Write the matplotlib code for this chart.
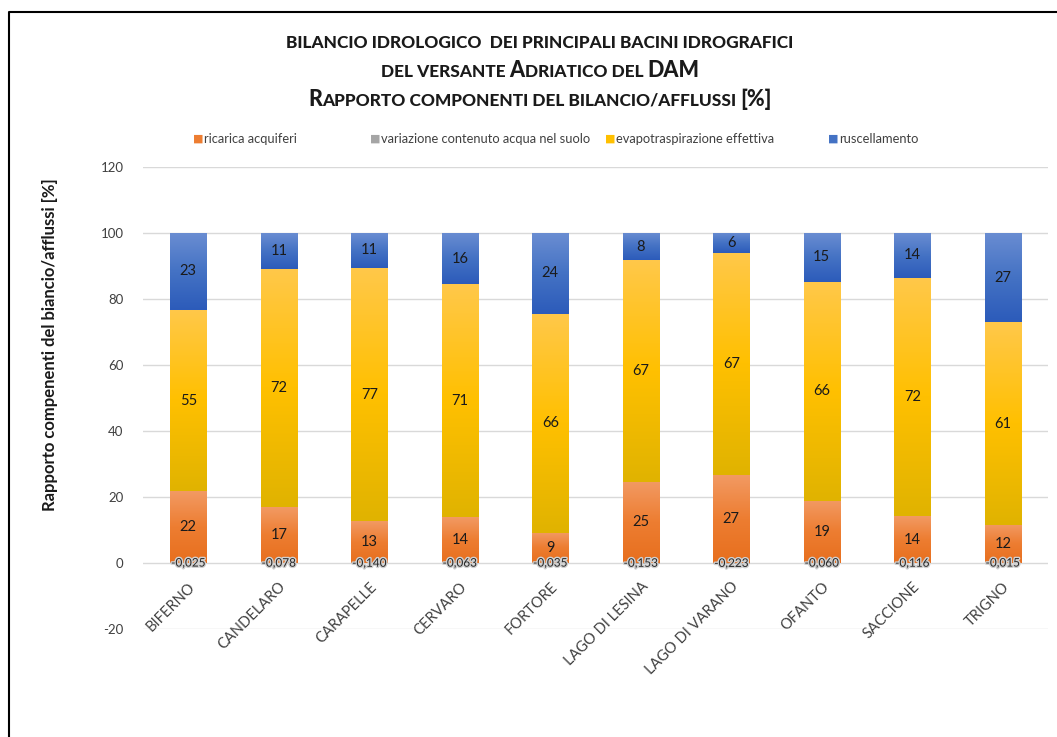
#!/usr/bin/env python3
"""Bilancio idrologico - barre impilate con riempimento sfumato."""
import numpy as np
import matplotlib
matplotlib.use("Agg")
import matplotlib.pyplot as plt
from matplotlib.colors import LinearSegmentedColormap
from matplotlib.lines import Line2D
import matplotlib.patheffects as pe

plt.rcParams["font.family"] = ["Lato", "DejaVu Sans"]
plt.rcParams["axes.unicode_minus"] = False

# dati ---------------------------------------------------------------
bacini = ["BIFERNO", "CANDELARO", "CARAPELLE", "CERVARO", "FORTORE",
          "LAGO DI LESINA", "LAGO DI VARANO", "OFANTO", "SACCIONE", "TRIGNO"]
ricarica = [21.7, 16.9, 12.6, 13.8, 9.2, 24.6, 26.6, 18.9, 14.1, 11.6]
variazione = [-0.025, -0.078, -0.140, -0.063, -0.035, -0.153, -0.223, -0.060, -0.116, -0.015]
evapotrasp = [55.0, 72.2, 76.8, 70.6, 66.4, 67.2, 67.3, 66.4, 72.3, 61.3]
ruscell = [23.3, 10.9, 10.6, 15.6, 24.4, 8.2, 6.1, 14.7, 13.6, 27.1]

legend_labels = ["ricarica acquiferi", "variazione contenuto acqua nel suolo",
                 "evapotraspirazione effettiva", "ruscellamento"]
# colori gradiente (basso, medio, alto)
grad_colors = {
    "ric": ["#E76F1E", "#ED7D31", "#F29A63"],
    "var": ["#9A9A9A", "#A5A5A5", "#BDBDBD"],
    "eva": ["#E0B300", "#FFC000", "#FFC84A"],
    "rus": ["#2C5BBA", "#4472C4", "#6A8DD2"],
}
solid = {"ric": "#ED7D31", "var": "#A5A5A5", "eva": "#FFC000", "rus": "#4472C4"}

# --------------------------------------------------------------------
fig = plt.figure(figsize=(10.57, 7.37), dpi=100)
ax = fig.add_axes([0.1353, 0.1465, 0.8562, 0.6269])

x = np.arange(len(bacini))
w = 0.4
ric = np.array(ricarica)
eva = np.array(evapotrasp)
rus = np.array(ruscell)
var = np.array(variazione)

series = [
    ("ric", ric, np.zeros_like(ric)),
    ("var", var, np.zeros_like(var)),
    ("eva", eva, ric),
    ("rus", rus, ric + eva),
]

grad = np.linspace(0, 1, 256).reshape(-1, 1)
for key, vals, bottom in series:
    cmap = LinearSegmentedColormap.from_list(key, grad_colors[key])
    bars = ax.bar(x, vals, w, bottom=bottom, color="none", edgecolor="none", zorder=2)
    for b in bars:
        x0, y0 = b.get_x(), b.get_y()
        x1, y1 = x0 + b.get_width(), y0 + b.get_height()
        # leggera ombra a destra
        ax.bar(x0 + b.get_width() / 2 + 0.012, b.get_height(), b.get_width(), bottom=y0,
               color="#000000", alpha=0.10, zorder=1.5)
        im = ax.imshow(grad, cmap=cmap, origin="lower", aspect="auto",
                       extent=[x0, x1, min(y0, y1), max(y0, y1)], zorder=2.5)
        im.set_clip_path(b)

# etichette dei valori
for i in range(len(bacini)):
    ax.text(x[i], ric[i] / 2, f"{ric[i]:.0f}", ha="center", va="center", fontsize=10.5, color="#1a1a1a", zorder=5)
    ax.text(x[i], ric[i] + eva[i] / 2, f"{eva[i]:.0f}", ha="center", va="center", fontsize=10.5, color="#1a1a1a", zorder=5)
    ax.text(x[i], ric[i] + eva[i] + rus[i] / 2, f"{rus[i]:.0f}", ha="center", va="center", fontsize=10.5, color="#1a1a1a", zorder=5)
    t = ax.text(x[i], var[i] / 2, f"{var[i]:.3f}".replace(".", ","), ha="center", va="center",
                fontsize=8.5, color="#262626", zorder=5)
    t.set_path_effects([pe.withStroke(linewidth=2, foreground="#d0d0d0")])

ax.set_xlim(-0.5, len(bacini) - 0.5)
ax.set_ylim(-20, 120)
ax.set_yticks(np.arange(-20, 121, 20))
ax.yaxis.grid(True, color="#D9D9D9", linewidth=1)
ax.set_axisbelow(True)
for s in ax.spines.values():
    s.set_visible(False)
# asse delle categorie che incrocia lo zero
ax.spines["bottom"].set_position(("data", 0))
ax.tick_params(axis="both", length=0, labelsize=9.5, colors="#404040")
ax.tick_params(axis="y", pad=14)
ax.set_xticks(x)
ax.set_xticklabels(bacini, rotation=45, ha="right", rotation_mode="anchor", fontsize=10.5)
ax.tick_params(axis="x", pad=12)

fig.text(0.047, 1 - 345 / 737, "Rapporto compenenti del biancio/afflussi [%]", rotation=90,
         ha="center", va="center", fontsize=12, fontweight="bold", color="#1a1a1a")

# legenda
leg_x = [198, 375, 610, 833]
for lx, key, lab in zip(leg_x, ["ric", "var", "eva", "rus"], legend_labels):
    fig.text(lx / 1057, 1 - 139 / 737, "\u25A0", color=solid[key], fontsize=8,
             ha="center", va="center", family="DejaVu Sans")
    fig.text((lx + 6) / 1057, 1 - 139 / 737, lab, color="#404040", fontsize=9.3,
             ha="left", va="center")

# titolo in maiuscoletto
fig.canvas.draw()
renderer = fig.canvas.get_renderer()


def small_caps_line(parts, yc, big=15.5, small=12.4):
    """parts = [(testo, grande?)]; centra la riga su x=540px"""
    texts = []
    for s, is_big in parts:
        t = fig.text(0, 1 - yc / 737, s, fontsize=big if is_big else small,
                     fontweight="black", color="#1a1a1a", ha="left", va="baseline")
        texts.append(t)
    widths = [t.get_window_extent(renderer).width for t in texts]
    total = sum(widths)
    xpos = 540 - total / 2
    for t, wd in zip(texts, widths):
        t.set_x(xpos / 1057)
        xpos += wd


small_caps_line([("BILANCIO IDROLOGICO  DEI PRINCIPALI BACINI IDROGRAFICI", False)], 48)
small_caps_line([("DEL VERSANTE ", False), ("A", True), ("DRIATICO DEL ", False), ("DAM", True)], 77)
small_caps_line([("R", True), ("APPORTO COMPONENTI DEL BILANCIO/AFFLUSSI ", False), ("[%]", True)], 106)

# cornice
fig.add_artist(Line2D([9 / 1057, 9 / 1057, 1], [0, 1 - 12 / 737, 1 - 12 / 737],
                      transform=fig.transFigure, color="black", linewidth=1.5))

fig.savefig("out.png", dpi=100)
